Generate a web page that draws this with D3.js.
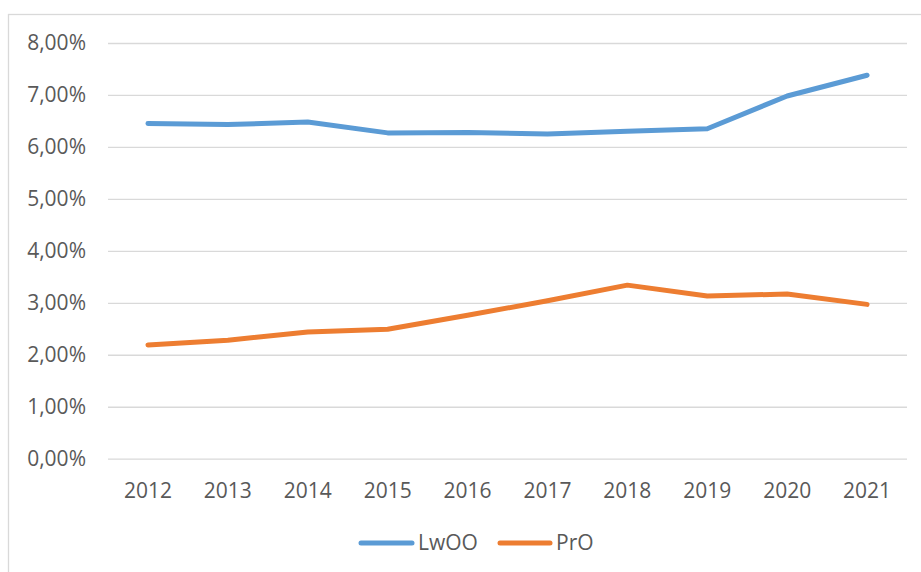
<!DOCTYPE html>
<html>
<head>
<meta charset="utf-8">
<script src="https://cdn.jsdelivr.net/npm/d3@7"></script>
<style>
  html, body { margin: 0; padding: 0; background: #fff; }
  svg { display: block; }
  text { font-family: "Open Sans", "Liberation Sans", sans-serif; fill: #595959; }
</style>
</head>
<body>
<svg id="chart" width="921" height="572"></svg>
<script>
const years = ["2012","2013","2014","2015","2016","2017","2018","2019","2020","2021"];
const seriesNames = ["LwOO", "PrO"];
const lwooValues = [6.45, 6.43, 6.48, 6.27, 6.28, 6.25, 6.30, 6.35, 6.98, 7.38];
const proValues  = [2.19, 2.28, 2.44, 2.49, 2.76, 3.04, 3.34, 3.13, 3.17, 2.97];
const seriesColors = ["#5B9BD5", "#ED7D31"];
const yTicks = [0, 1, 2, 3, 4, 5, 6, 7, 8];

const svg = d3.select("#chart");
const W = 921, H = 572;

// chart frame
svg.append("rect")
  .attr("x", 8.5).attr("y", 14.5)
  .attr("width", W + 20).attr("height", H + 20)
  .attr("fill", "#fff").attr("stroke", "#d9d9d9").attr("stroke-width", 1.3);

const plot = { left: 108, right: 907, top: 43, bottom: 458.7 };

const x = d3.scaleBand().domain(years).range([plot.left, plot.right]);
const y = d3.scaleLinear().domain([0, 8]).range([plot.bottom, plot.top]);

// gridlines + y labels
const yAxis = d3.axisLeft(y)
  .tickValues(yTicks)
  .tickSize(-(plot.right - plot.left))
  .tickPadding(22)
  .tickFormat(d => d3.format(".2f")(d).replace(".", ",") + "%");

const gy = svg.append("g").attr("transform", `translate(${plot.left},0)`).call(yAxis);
gy.select(".domain").remove();
gy.selectAll(".tick line").attr("stroke", "#d9d9d9").attr("stroke-width", 1.3);
gy.selectAll(".tick text")
  .attr("font-size", 21).attr("fill", "#595959")
  .style("font-family", '"Open Sans", sans-serif');

// x labels
const xAxis = d3.axisBottom(x).tickSize(0).tickPadding(24);
const gx = svg.append("g").attr("transform", `translate(0,${plot.bottom})`).call(xAxis);
gx.select(".domain").remove();
gx.selectAll(".tick text")
  .attr("font-size", 21).attr("fill", "#595959")
  .style("font-family", '"Open Sans", sans-serif');

// lines
const data = [lwooValues, proValues];
const line = d3.line()
  .x((d, i) => x(years[i]) + x.bandwidth() / 2)
  .y(d => y(d));

data.forEach((vals, k) => {
  svg.append("path")
    .datum(vals)
    .attr("d", line)
    .attr("fill", "none")
    .attr("stroke", seriesColors[k])
    .attr("stroke-width", 5)
    .attr("stroke-linejoin", "round")
    .attr("stroke-linecap", "round");
});

// legend
const legendY = 543;
const legendItems = [
  { x0: 361, x1: 412, tx: 418 },
  { x0: 500, x1: 550, tx: 556 }
];
seriesNames.forEach((name, k) => {
  const it = legendItems[k];
  svg.append("line")
    .attr("x1", it.x0).attr("x2", it.x1)
    .attr("y1", legendY).attr("y2", legendY)
    .attr("stroke", seriesColors[k]).attr("stroke-width", 5)
    .attr("stroke-linecap", "round");
  svg.append("text")
    .attr("x", it.tx).attr("y", legendY)
    .attr("dy", "0.35em")
    .attr("font-size", 21)
    .text(name);
});
</script>
</body>
</html>
